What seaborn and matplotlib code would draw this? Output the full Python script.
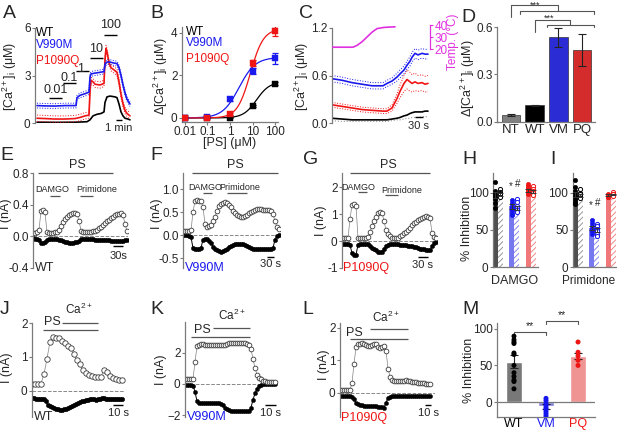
import numpy as np
import pandas as pd
import matplotlib
matplotlib.use('Agg')
import matplotlib.pyplot as plt
import seaborn as sns

# ---------------- data ----------------
# Panel A : [Ca2+]i traces (time in arbitrary units)
A_t_b = [2, 10, 20, 30, 41, 42, 45, 50, 54, 55, 56, 60, 65, 69, 70, 72, 75, 78, 82, 84, 86, 88, 90, 92, 95]
A_b = [1.10, 1.08, 1.07, 1.10, 1.10, 1.60, 1.75, 1.85, 1.95, 2.90, 3.10, 3.15, 3.20, 3.25, 3.70, 3.85, 3.85,
       3.80, 3.75, 3.50, 3.00, 2.40, 1.90, 1.50, 1.20]
A_t_r = [2, 10, 20, 30, 40, 45, 50, 54, 55, 56, 58, 60, 65, 69, 70, 71, 72, 74, 76, 80, 82, 84, 86, 88, 90, 92, 95]
A_r = [0.30, 0.28, 0.25, 0.25, 0.28, 0.35, 0.45, 0.50, 2.00, 2.70, 2.60, 2.45, 2.40, 2.50, 4.00, 4.70, 4.50, 3.80,
       3.50, 3.30, 3.20, 2.60, 1.80, 1.20, 0.80, 0.60, 0.45]
A_t_k = [2, 20, 40, 52, 55, 58, 62, 66, 69, 70, 72, 75, 80, 82, 84, 86, 88, 90, 93, 95]
A_k = [0.05, 0.04, 0.05, 0.08, 0.20, 0.45, 0.55, 0.60, 0.70, 1.30, 1.65, 1.70, 1.65, 1.60, 1.20, 0.70, 0.45, 0.30,
       0.25, 0.20]
A_err_b = 0.15
A_err_r = 0.20
A_conc = ['0.01', '0.1', '1', '10', '100']

# Panel B : dose response
B_ps = [0.01, 0.1, 1, 10, 100]
B_wt = [0.00, 0.00, 0.02, 0.55, 1.62]
B_wt_e = [0.01, 0.01, 0.01, 0.04, 0.05]
B_vm = [0.02, 0.05, 0.88, 2.20, 2.80]
B_vm_e = [0.02, 0.04, 0.07, 0.15, 0.28]
B_pq = [0.02, 0.02, 0.18, 2.58, 4.10]
B_pq_e = [0.02, 0.02, 0.05, 0.15, 0.22]
# Hill fit parameters (max, EC50, n)
B_fit = {'WT': (1.70, 15.0, 1.5), 'V990M': (2.85, 2.5, 1.2), 'P1090Q': (4.20, 8.0, 1.5)}

# Panel C : temperature response
C_t = [0, 10, 20, 30, 40, 51, 55, 60, 65, 68, 72, 75, 78, 80, 83, 86, 90, 93, 96]
C_b = [0.56, 0.54, 0.51, 0.49, 0.47, 0.47, 0.50, 0.53, 0.58, 0.62, 0.67, 0.73, 0.78, 0.83, 0.88, 0.86, 0.88, 0.87, 0.87]
C_b_e = [0.04, 0.04, 0.04, 0.04, 0.04, 0.04, 0.04, 0.04, 0.05, 0.05, 0.05, 0.05, 0.06, 0.06, 0.06, 0.06, 0.06, 0.06, 0.06]
C_r = [0.23, 0.21, 0.19, 0.17, 0.16, 0.15, 0.15, 0.19, 0.31, 0.40, 0.50, 0.55, 0.52, 0.50, 0.52, 0.50, 0.51, 0.49, 0.50]
C_r_e = [0.03, 0.03, 0.03, 0.03, 0.03, 0.03, 0.03, 0.04, 0.06, 0.08, 0.10, 0.12, 0.12, 0.11, 0.11, 0.10, 0.10, 0.10, 0.10]
C_k = [0.06, 0.05, 0.04, 0.04, 0.04, 0.04, 0.04, 0.05, 0.06, 0.07, 0.09, 0.10, 0.12, 0.13, 0.14, 0.14, 0.14, 0.15, 0.15]
C_g = [0.03, 0.02, 0.02, 0.02, 0.02, 0.02, 0.02, 0.03, 0.04, 0.04, 0.05, 0.06, 0.06, 0.07, 0.07, 0.07, 0.08, 0.08, 0.08]
T_t = [0, 21, 25, 30, 35, 40, 45, 52, 63]
T_v = [21.5, 21.5, 23.0, 26.0, 30.0, 34.0, 37.0, 38.0, 38.5]

# Panel D
D_cats = ['NT', 'WT', 'VM', 'PQ']
D_vals = [0.045, 0.105, 0.535, 0.455]
D_err = [0.005, 0.004, 0.06, 0.10]

# Panels E-G : whole-cell currents (open = outward, filled = inward)
E_t = list(range(0, 96, 2))
E_open = [0.04, 0.04, 0.05, 0.08, 0.32, 0.33, 0.31, 0.05, 0.04, 0.04,
          0.04, 0.05, 0.05, 0.08, 0.13, 0.18, 0.22, 0.25, 0.27, 0.28,
          0.30, 0.29, 0.28, 0.20, 0.07, 0.06, 0.06, 0.06, 0.06, 0.06,
          0.07, 0.07, 0.08, 0.10, 0.12, 0.14, 0.17, 0.19, 0.21, 0.23,
          0.25, 0.27, 0.28, 0.28, 0.29, 0.27, 0.15, 0.07]
E_fill = [-0.02, -0.03, -0.03, -0.05, -0.08, -0.08, -0.07, -0.04, -0.03, -0.03,
          -0.03, -0.03, -0.03, -0.04, -0.05, -0.06, -0.07, -0.07, -0.08, -0.08,
          -0.08, -0.07, -0.07, -0.06, -0.03, -0.03, -0.03, -0.03, -0.03, -0.03,
          -0.03, -0.04, -0.04, -0.04, -0.04, -0.05, -0.05, -0.05, -0.05, -0.06,
          -0.06, -0.06, -0.06, -0.06, -0.06, -0.06, -0.05, -0.04]
F_t = list(range(0, 98, 2))
F_open = [0.08, 0.08, 0.08, 0.08, 0.10, 0.50, 0.74, 0.76, 0.75, 0.75,
          0.60, 0.25, 0.18, 0.20, 0.22, 0.30, 0.40, 0.52, 0.62, 0.67,
          0.70, 0.71, 0.70, 0.66, 0.60, 0.53, 0.47, 0.44, 0.42, 0.40,
          0.40, 0.41, 0.44, 0.48, 0.51, 0.53, 0.55, 0.56, 0.56, 0.56,
          0.55, 0.55, 0.55, 0.54, 0.52, 0.45, 0.30, 0.17, 0.14]
F_fill = [0.00, 0.00, 0.00, -0.02, -0.05, -0.28, -0.30, -0.30, -0.30, -0.28,
          -0.10, -0.08, -0.09, -0.12, -0.18, -0.25, -0.30, -0.33, -0.35, -0.36,
          -0.35, -0.33, -0.30, -0.27, -0.24, -0.22, -0.20, -0.20, -0.20, -0.20,
          -0.20, -0.21, -0.23, -0.26, -0.28, -0.30, -0.30, -0.31, -0.31, -0.31,
          -0.31, -0.31, -0.31, -0.30, -0.30, -0.28, -0.10, -0.03, 0.00]
G_t = list(range(0, 96, 2))
G_open = [0.10, 0.10, 0.10, 0.12, 0.80, 1.35, 1.38, 1.30, 0.12, 0.10,
          0.10, 0.10, 0.10, 0.15, 0.35, 0.55, 0.75, 0.90, 1.02, 1.08,
          1.05, 0.75, 0.40, 0.25, 0.18, 0.13, 0.12, 0.12, 0.13, 0.17,
          0.22, 0.28, 0.35, 0.42, 0.50, 0.58, 0.65, 0.72, 0.78, 0.83,
          0.87, 0.90, 0.92, 0.90, 0.85, 0.30, 0.15, 0.10]
G_fill = [-0.10, -0.10, -0.10, -0.10, -0.15, -0.45, -0.50, -0.50, -0.15, -0.10,
          -0.10, -0.10, -0.10, -0.12, -0.18, -0.25, -0.30, -0.35, -0.40, -0.42,
          -0.40, -0.30, -0.20, -0.14, -0.10, -0.10, -0.10, -0.10, -0.12, -0.13,
          -0.14, -0.15, -0.16, -0.17, -0.19, -0.20, -0.22, -0.24, -0.26, -0.28,
          -0.30, -0.31, -0.33, -0.35, -0.35, -0.20, -0.08, -0.05]

# Panels H, I : % inhibition (solid = first, hatched = second)
HI_groups = ['WT', 'VM', 'PQ']
H_solid = [97, 82, 104]
H_solid_e = [4, 3, 2]
H_hatch = [98, 80, 102]
H_hatch_e = [2, 3, 2]
H_pts_solid = [[115, 103, 100, 97, 95, 92, 87, 80], [90, 86, 83, 80, 78, 76, 72, 70], [112, 110, 107, 105, 103, 100, 98]]
H_pts_hatch = [[105, 102, 100, 98, 95], [92, 88, 83, 80, 77, 74], [110, 106, 103, 100, 97]]
I_solid = [98, 53, 97]
I_solid_e = [4, 3, 1]
I_hatch = [97, 50, 98]
I_hatch_e = [2, 3, 1]
I_pts_solid = [[118, 108, 103, 100, 96, 92, 88, 85], [63, 60, 55, 52, 50, 48, 45], [98, 97, 96, 95, 94]]
I_pts_hatch = [[105, 100, 98, 96, 93], [58, 55, 52, 48, 45, 42], [101, 99, 98, 96]]

# Panels J-L : PS then Ca2+
J_t_open = list(range(0, 93, 3))
J_open = [0.20, 0.22, 0.22, 0.22, 0.50, 0.95, 1.45, 1.60, 1.55, 1.55,
          1.48, 1.40, 1.33, 1.27, 1.10, 0.90, 0.78, 0.63, 0.53, 0.47,
          0.45, 0.42, 0.40, 0.42, 0.62, 0.55, 0.45, 0.37, 0.35, 0.33, 0.32]
J_t_fill = list(range(0, 92, 2))
J_fill = [-0.20, -0.22, -0.23, -0.23, -0.24, -0.25, -0.25, -0.30, -0.40, -0.45,
          -0.48, -0.50, -0.52, -0.53, -0.55, -0.55, -0.54, -0.52, -0.50, -0.47,
          -0.44, -0.41, -0.38, -0.35, -0.32, -0.30, -0.28, -0.27, -0.26, -0.25,
          -0.25, -0.25, -0.26, -0.25, -0.23, -0.22, -0.22, -0.23, -0.24, -0.25,
          -0.25, -0.24, -0.24, -0.25, -0.25, -0.25]
K_t = list(range(0, 92, 2))
K_open = [0.30, 0.30, 0.30, 0.30, 0.30, 1.40, 2.40, 2.50, 2.55, 2.55,
          2.50, 2.50, 2.50, 2.50, 2.50, 2.50, 2.45, 2.45, 2.45, 2.50,
          2.50, 2.55, 2.60, 2.60, 2.60, 2.60, 2.60, 2.60, 2.60, 2.60,
          2.60, 2.55, 2.50, 2.20, 1.60, 1.00, 0.60, 0.40, 0.30, 0.22,
          0.18, 0.15, 0.12, 0.10, 0.10, 0.10]
K_fill = [-0.05, -0.05, -0.05, -0.05, -0.10, -0.50, -1.10, -1.20, -1.20, -1.20,
          -1.20, -1.20, -1.20, -1.20, -1.20, -1.20, -1.20, -1.20, -1.25, -1.35,
          -1.50, -1.60, -1.65, -1.70, -1.70, -1.70, -1.70, -1.70, -1.70, -1.70,
          -1.70, -1.70, -1.70, -1.50, -1.00, -0.60, -0.30, -0.12, -0.05, 0.00,
          0.00, 0.00, 0.00, 0.00, 0.00, 0.00]
L_t = list(range(0, 92, 2))
L_open = [0.10, 0.10, 0.10, 0.10, 0.10, 0.10, 0.30, 0.90, 1.40, 1.50,
          1.50, 1.52, 1.50, 1.48, 1.45, 1.45, 1.48, 1.50, 1.50, 1.42,
          1.38, 1.40, 1.45, 1.30, 0.75, 0.50, 0.40, 0.38, 0.38, 0.37,
          0.37, 0.38, 0.38, 0.40, 0.38, 0.37, 0.35, 0.35, 0.33, 0.32,
          0.30, 0.30, 0.30, 0.28, 0.28, 0.28]
L_fill = [-0.10, -0.10, -0.10, -0.10, -0.10, -0.10, -0.12, -0.20, -0.30, -0.35,
          -0.38, -0.38, -0.40, -0.40, -0.40, -0.40, -0.40, -0.40, -0.40, -0.42,
          -0.42, -0.43, -0.45, -0.30, -0.15, -0.12, -0.10, -0.10, -0.10, -0.10,
          -0.10, -0.10, -0.10, -0.10, -0.10, -0.10, -0.10, -0.10, -0.10, -0.10,
          -0.10, -0.10, -0.10, -0.10, -0.10, -0.10]

# Panel M
M_cats = ['WT', 'VM', 'PQ']
M_vals = [55, -6, 63]
M_err = [9, 3, 4]
M_pts = {'WT': [90, 85, 82, 80, 67, 65, 50, 40, 35, 30, 28, 18],
         'VM': [5, 2, -2, -5, -8, -10, -13, -16, -19],
         'PQ': [82, 68, 63, 57, 50]}

# ---------------- style ----------------
sns.set_theme(style='ticks')
plt.rcParams['font.family'] = ['Liberation Sans', 'DejaVu Sans']
plt.rcParams['mathtext.fontset'] = 'custom'
plt.rcParams['mathtext.rm'] = 'Liberation Sans'
plt.rcParams['mathtext.it'] = 'Liberation Sans:italic'
plt.rcParams['mathtext.bf'] = 'Liberation Sans:bold'
plt.rcParams['hatch.linewidth'] = 0.6

BLUE = '#1a1aee'
RED = '#f01515'
MAG = '#e030e0'
SP = '#7a7a7a'
ANN = '#555555'
TK = 8.5   # tick label size
LB = 9     # axis label size
LG = 8.5   # in-panel legend size
CA = r'[Ca$^{2+}$]$_{\mathrm{i}}$ (μM)'
DCA = r'Δ[Ca$^{2+}$]$_{\mathrm{i}}$ (μM)'

W, H = 617, 430
fig = plt.figure(figsize=(W / 100, H / 100), dpi=100)


def add_ax(l, t, r, b):
    return fig.add_axes([l / W, 1 - b / H, (r - l) / W, (b - t) / H])


def ftext(x, y, s, **kw):
    kw.setdefault('ha', 'center')
    kw.setdefault('va', 'center')
    fig.text(x / W, 1 - y / H, s, **kw)


def style(ax, bottom=False):
    sns.despine(ax=ax, bottom=not bottom)
    for s in ['left', 'bottom']:
        ax.spines[s].set_color(SP)
        ax.spines[s].set_linewidth(0.9)
    ax.tick_params(axis='both', length=2.2, width=0.8, color=SP, labelsize=TK, pad=1)
    if not bottom:
        ax.set_xticks([])
    ax.set_xlabel('')
    ax.set_ylabel('')
    ax.patch.set_alpha(0)


def line(ax, x, y, color, lw=1.2, ls='-'):
    sns.lineplot(x=x, y=y, ax=ax, color=color, lw=lw, ls=ls, estimator=None, sort=False)


def opentrace(ax, x, y, ms=3.4):
    sns.lineplot(x=x, y=y, ax=ax, color='#808080', lw=0.5, marker='o', ms=ms, mfc='white',
                 mec='#3a3a3a', mew=0.6, estimator=None, sort=False)


def filltrace(ax, x, y, ms=3.1):
    sns.lineplot(x=x, y=y, ax=ax, color='black', lw=0.7, marker='o', ms=ms, mfc='black',
                 mec='black', mew=0.3, estimator=None, sort=False)


def hbar(ax, x0, x1, y, color=ANN, lw=0.9):
    ax.plot([x0, x1], [y, y], color=color, lw=lw, clip_on=False, solid_capstyle='butt')


def atext(ax, x, y, s, size=9, **kw):
    kw.setdefault('ha', 'center')
    kw.setdefault('va', 'center')
    ax.text(x, y, s, fontsize=size, clip_on=False, **kw)


# ---------------- Panel A ----------------
axA = add_ax(35, 28, 132, 123)
line(axA, A_t_k, A_k, 'black')
for tt, yy, ee, cc in [(A_t_r, A_r, A_err_r, RED), (A_t_b, A_b, A_err_b, BLUE)]:
    line(axA, tt, yy, cc, lw=1.2)
    line(axA, tt, np.array(yy) + ee, cc, lw=0.7, ls=':')
    line(axA, tt, np.array(yy) - ee, cc, lw=0.7, ls=':')
axA.set_xlim(0, 97)
axA.set_ylim(0, 6)
style(axA)
axA.set_yticks([0, 3, 6])
conc_bars = [(14, 27, 1.58, 2.1), (28, 41, 2.53, 2.85), (41, 54, 3.28, 3.4), (55, 68, 4.11, 4.7),
             (69, 82, 5.56, 6.2)]
for lab, (x0, x1, yb, yt) in zip(A_conc, conc_bars):
    hbar(axA, x0, x1, yb, color='black', lw=1.0)
    atext(axA, (x0 + x1) / 2 + (-2 if lab == '1' else 0), yt, lab, size=9)
hbar(axA, 81, 87, 0.19, color='black', lw=1.0)
atext(axA, 84, -0.3, '1 min', size=8)
ftext(36, 33, 'WT', ha='left', fontsize=LG, color='black')
ftext(36, 45, 'V990M', ha='left', fontsize=LG, color=BLUE)
ftext(36, 61, 'P1090Q', ha='left', fontsize=LG, color=RED)
ftext(10, 76, CA, rotation=90, fontsize=LB)

# ---------------- Panel B ----------------
axB = add_ax(182, 27, 278, 122)
xfit = np.logspace(-2, 2, 200)
for key, cc in [('WT', 'black'), ('V990M', BLUE), ('P1090Q', RED)]:
    vmax, ec50, nh = B_fit[key]
    line(axB, xfit, vmax * xfit ** nh / (ec50 ** nh + xfit ** nh), cc, lw=0.9)
for yy, ee, cc in [(B_wt, B_wt_e, 'black'), (B_vm, B_vm_e, BLUE), (B_pq, B_pq_e, RED)]:
    axB.errorbar(B_ps, yy, yerr=ee, fmt='none', ecolor=cc, elinewidth=0.9, capsize=2.5, capthick=0.9)
    sns.scatterplot(x=B_ps, y=yy, ax=axB, marker='s', s=18, color=cc, edgecolor=cc, linewidth=0.3, zorder=3)
axB.set_xscale('log')
axB.set_xlim(10 ** -2.13, 10 ** 2.13)
axB.set_ylim(-0.19, 4.28)
style(axB, bottom=True)
axB.set_xticks(B_ps)
axB.set_xticklabels(['0.01', '0.1', '1', '10', '100'])
axB.minorticks_off()
axB.set_yticks([0, 2, 4])
ftext(186, 32, 'WT', ha='left', fontsize=LG, color='black')
ftext(186, 43, 'V990M', ha='left', fontsize=LG, color=BLUE)
ftext(186, 59, 'P1090Q', ha='left', fontsize=LG, color=RED)
ftext(161, 76, DCA, rotation=90, fontsize=LB)
ftext(230, 143, '[PS] (μM)', fontsize=LB)

# ---------------- Panel C ----------------
axC = add_ax(332, 28, 430, 123)
line(axC, C_t, C_g, '#999999', lw=0.8, ls=':')
line(axC, C_t, C_k, 'black', lw=1.2)
for yy, ee, cc in [(C_r, C_r_e, RED), (C_b, C_b_e, BLUE)]:
    line(axC, C_t, yy, cc, lw=1.2)
    line(axC, C_t, np.array(yy) + np.array(ee), cc, lw=0.7, ls=':')
    line(axC, C_t, np.array(yy) - np.array(ee), cc, lw=0.7, ls=':')
axC.set_xlim(0, 98)
axC.set_ylim(0, 1.2)
style(axC)
axC.set_yticks([0, 0.6, 1.2])
axC.set_yticklabels(['0.0', '0.6', '1.2'])
hbar(axC, 83, 91, 0.075, color='black', lw=1.0)
atext(axC, 87, -0.04, '30 s', size=8)
ftext(302, 76, CA, rotation=90, fontsize=LB)

axT = add_ax(332, 25, 430, 49)
line(axT, T_t, T_v, MAG, lw=1.2)
axT.set_xlim(0, 98)
axT.set_ylim(20, 40)
sns.despine(ax=axT, left=True, bottom=True, right=False)
axT.spines['right'].set_color(MAG)
axT.spines['right'].set_linewidth(0.9)
axT.yaxis.tick_right()
axT.set_yticks([20, 30, 40])
axT.tick_params(axis='y', length=2.2, width=0.8, color=MAG, labelcolor=MAG, labelsize=TK, pad=1)
axT.set_xticks([])
axT.set_xlabel('')
axT.set_ylabel('')
axT.patch.set_alpha(0)
ftext(453, 42, 'Temp. (°C)', rotation=90, fontsize=8.5, color=MAG)

# ---------------- Panel D ----------------
axD = add_ax(497, 27, 595, 122)
D_colors = ['#808080', '#000000', '#1010f0', '#f01010']
sns.barplot(x=D_cats, y=D_vals, hue=D_cats, palette=D_colors, width=0.78, ax=axD, legend=False,
            errorbar=None, edgecolor='#333333', linewidth=0.5)
axD.errorbar(range(4), D_vals, yerr=D_err, fmt='none', ecolor='#222222', elinewidth=0.8, capsize=3, capthick=0.8)
axD.set_xlim(-0.59, 3.54)
axD.set_ylim(0, 0.6)
style(axD, bottom=True)
axD.tick_params(axis='x', length=0, labelsize=9.5, pad=1.5)
axD.set_yticks([0, 0.3, 0.6])
axD.set_yticklabels(['0.0', '0.3', '0.6'])
axD.plot([0, 0, 2.0, 2.0], [0.665, 0.74, 0.74, 0.70], color=ANN, lw=0.8, clip_on=False)
axD.plot([0.4, 0.4, 3.5, 3.5], [0.685, 0.70, 0.70, 0.685], color=ANN, lw=0.8, clip_on=False)
atext(axD, 1.0, 0.737, '***', size=6.5)
axD.plot([1.0, 1.0, 2.5, 2.5], [0.57, 0.645, 0.645, 0.614], color=ANN, lw=0.8, clip_on=False)
axD.plot([1.5, 1.5, 3.5, 3.5], [0.60, 0.614, 0.614, 0.60], color=ANN, lw=0.8, clip_on=False)
atext(axD, 1.6, 0.655, '***', size=6.5)
ftext(468, 78, DCA, rotation=90, fontsize=LB)


# ---------------- Panels E, F, G ----------------
def current_panel(box, t, yo, yf, ylim, xlim, yticks, yticklabels, ylab_x, ylab_y):
    ax = add_ax(*box)
    ax.axhline(0, color='#888888', lw=0.7, ls='--', zorder=0)
    filltrace(ax, t, yf)
    opentrace(ax, t, yo)
    ax.set_xlim(*xlim)
    ax.set_ylim(*ylim)
    style(ax)
    ax.set_yticks(yticks)
    ax.set_yticklabels(yticklabels)
    ftext(ylab_x, ylab_y, 'I (nA)', rotation=90, fontsize=LB)
    return ax


axE = current_panel((33, 173, 128, 268), E_t, E_open, E_fill, (-0.4, 0.8), (0, 95),
                    [-0.4, 0, 0.4, 0.8], ['-0.4', '0.0', '0.4', '0.8'], 5.5, 214)
hbar(axE, 5, 80, 0.8)
atext(axE, 44, 0.83, 'PS', size=9, va='bottom')
atext(axE, 19, 0.59, 'DAMGO', size=6.5)
hbar(axE, 17, 27, 0.51)
atext(axE, 64, 0.59, 'Primidone', size=6.5)
hbar(axE, 47, 60, 0.51)
hbar(axE, 80, 90, -0.125, color='black', lw=1.0)
atext(axE, 85, -0.25, '30s', size=8)
atext(axE, 2, -0.4, 'WT', size=9, ha='left')

axF = current_panel((183, 173, 280, 268), F_t, F_open, F_fill, (-0.717, 1.348), (0, 97),
                    [-0.5, 0, 0.5, 1.0], ['-0.5', '0.0', '0.5', '1.0'], 157, 214)
hbar(axF, 9, 95, 1.348)
atext(axF, 52, 1.39, 'PS', size=9, va='bottom')
atext(axF, 22, 1.04, 'DAMGO', size=6.5)
hbar(axF, 20, 29, 0.91)
atext(axF, 57, 1.04, 'Primidone', size=6.5)
hbar(axF, 44, 64, 0.91)
hbar(axF, 84, 91, -0.48, color='black', lw=1.0)
atext(axF, 88, -0.64, '30 s', size=8)
atext(axF, 2, -0.72, 'V990M', size=9, ha='left', color=BLUE)

axG = current_panel((342, 173, 437, 268), G_t, G_open, G_fill, (-1.0, 2.52), (0, 95),
                    [-1, 0, 1, 2], ['-1', '0', '1', '2'], 321, 221)
hbar(axG, 8, 88, 2.52)
atext(axG, 46, 2.6, 'PS', size=9, va='bottom')
atext(axG, 16, 2.0, 'DAMGO', size=6.5)
hbar(axG, 16, 25, 1.81)
atext(axG, 60, 1.89, 'Primidone', size=6.5)
hbar(axG, 43, 56, 1.70)
hbar(axG, 76, 86, -0.59, color='black', lw=1.0)
atext(axG, 81, -0.88, '30 s', size=8)
atext(axG, 1, -1.0, 'P1090Q', size=9, ha='left', color=RED)

# ---------------- Panels H, I ----------------
HI_bar = ['#505050', '#7878ee', '#f07878']
HI_hatch = ['#8a8a8a', '#7878ee', '#f07878']
HI_dot = ['#000000', '#1515ee', '#ee1515']


def inhib_panel(box, solid, solid_e, hatch, hatch_e, pts_s, pts_h, star_y):
    ax = add_ax(*box)
    df = pd.DataFrame({'group': HI_groups * 2,
                       'cond': ['a'] * 3 + ['b'] * 3,
                       'val': list(solid) + list(hatch)})
    sns.barplot(data=df, x='group', y='val', hue='cond', order=HI_groups, hue_order=['a', 'b'],
                width=0.6, ax=ax, legend=False, errorbar=None)
    for p in ax.patches:
        cx = p.get_x() + p.get_width() / 2
        g = int(round(cx))
        if cx < g:
            p.set_facecolor(HI_bar[g])
            p.set_edgecolor(HI_bar[g])
            p.set_linewidth(0)
        else:
            p.set_facecolor('white')
            p.set_edgecolor(HI_hatch[g])
            p.set_hatch('//////')
            p.set_linewidth(0)
    for g in range(3):
        xs = [g - 0.15] * len(pts_s[g])
        sns.scatterplot(x=xs, y=pts_s[g], ax=ax, color=HI_dot[g], s=9, edgecolor=HI_dot[g],
                        linewidth=0.5, zorder=3, clip_on=False)
        xh = [g + 0.15] * len(pts_h[g])
        sns.scatterplot(x=xh, y=pts_h[g], ax=ax, color='white', s=9, edgecolor=HI_dot[g],
                        linewidth=0.7, zorder=3, clip_on=False)
        ax.errorbar([g - 0.15, g + 0.15], [solid[g], hatch[g]], yerr=[solid_e[g], hatch_e[g]], fmt='none',
                    ecolor='#333333', elinewidth=0.7, capsize=2, capthick=0.7, zorder=4)
    ax.set_xlim(-0.3, 2.4)
    ax.set_ylim(0, 127)
    style(ax, bottom=True)
    ax.set_xticks([])
    ax.set_yticks([0, 50, 100])
    atext(ax, 0.8, star_y, '*', size=7)
    atext(ax, 1.18, star_y + 2, '#', size=7)
    return ax


axH = inhib_panel((493, 173, 537.5, 267), H_solid, H_solid_e, H_hatch, H_hatch_e, H_pts_solid, H_pts_hatch, 110)
axI = inhib_panel((572.7, 173, 617.5, 267), I_solid, I_solid_e, I_hatch, I_hatch_e, I_pts_solid, I_pts_hatch, 84)
ftext(515, 281, 'DAMGO', fontsize=LB)
ftext(589, 281, 'Primidone', fontsize=8.5)
ftext(467, 228, '% Inhibition', rotation=90, fontsize=LB)


# ---------------- Panels J, K, L ----------------
def ca_panel(box, to, yo, tf, yf, ylim, xlim, yticks, ylab_x, ylab_y, ms_o=3.4, ms_f=3.0):
    ax = add_ax(*box)
    ax.axhline(0, color='#888888', lw=0.7, ls='--', zorder=0)
    filltrace(ax, tf, yf, ms=ms_f)
    opentrace(ax, to, yo, ms=ms_o)
    ax.set_xlim(*xlim)
    ax.set_ylim(*ylim)
    style(ax)
    ax.set_yticks(yticks)
    ftext(ylab_x, ylab_y, 'I (nA)', rotation=90, fontsize=LB)
    return ax


axJ = ca_panel((32, 323, 125, 417), J_t_open, J_open, J_t_fill, J_fill, (-0.765, 2.0), (0, 93), [0, 1, 2],
               7, 368, ms_o=3.9, ms_f=3.2)
hbar(axJ, 11, 66, 1.79)
atext(axJ, 20, 2.02, 'PS', size=9)
hbar(axJ, 30, 66, 2.0)
atext(axJ, 47, 2.18, r'Ca$^{2+}$', size=8.5, va='bottom')
hbar(axJ, 81, 91, -0.41, color='black', lw=1.0)
atext(axJ, 86, -0.64, '10 s', size=8)
atext(axJ, 1.5, -0.77, 'WT', size=9, ha='left')

axK = ca_panel((185, 322, 278, 417), K_t, K_open, K_t, K_fill, (-2.1, 3.94), (0, 93), [-2, 0, 2], 161, 370)
hbar(axK, 6, 65, 2.98)
atext(axK, 17, 3.45, 'PS', size=9)
hbar(axK, 28, 65, 3.56)
atext(axK, 47, 3.9, r'Ca$^{2+}$', size=8.5, va='bottom')
hbar(axK, 80, 91, -1.33, color='black', lw=1.0)
atext(axK, 85, -1.85, '10 s', size=8)
atext(axK, 1.5, -2.1, 'V990M', size=9, ha='left', color=BLUE)

axL = ca_panel((340, 323, 435, 417), L_t, L_open, L_t, L_fill, (-0.74, 2.15), (0, 95), [0, 1, 2], 324, 365)
hbar(axL, 10, 68, 1.66)
atext(axL, 14, 1.85, 'PS', size=9)
hbar(axL, 30, 68, 1.97)
atext(axL, 46, 2.1, r'Ca$^{2+}$', size=8.5, va='bottom')
hbar(axL, 85, 91, -0.37, color='black', lw=1.0)
atext(axL, 88, -0.62, '10 s', size=8)
atext(axL, 1.5, -0.77, 'P1090Q', size=9, ha='left', color=RED)

# ---------------- Panel M ----------------
axM = add_ax(497, 323, 595, 417)
M_bar = ['#787878', '#7070e8', '#ff8484']
M_dot = ['#000000', '#1515ee', '#ee1515']
sns.barplot(x=M_cats, y=M_vals, hue=M_cats, palette=M_bar, width=0.5, ax=axM, legend=False, errorbar=None)
axM.axhline(0, color=SP, lw=0.9)
dfM = pd.DataFrame({'cat': [c for c in M_cats for _ in M_pts[c]],
                    'val': [v for c in M_cats for v in M_pts[c]]})
sns.stripplot(data=dfM, x='cat', y='val', hue='cat', order=M_cats, hue_order=M_cats, palette=M_dot,
              jitter=False, size=3.6, legend=False, ax=axM, zorder=3)
axM.errorbar(range(3), M_vals, yerr=M_err, fmt='none', ecolor='#222222', elinewidth=0.8, capsize=3, capthick=0.8)
axM.set_xlim(-0.53, 2.53)
axM.set_ylim(-20.5, 108)
style(axM, bottom=True)
axM.set_xticks(range(3))
axM.set_xticklabels(M_cats)
for lab, cc in zip(axM.get_xticklabels(), ['black', BLUE, RED]):
    lab.set_color(cc)
axM.tick_params(axis='x', length=0, labelsize=9, pad=0.5)
axM.set_yticks([0, 50, 100])
axM.plot([0, 0, 1, 1], [92, 96, 96, 92], color=ANN, lw=0.8, clip_on=False)
atext(axM, 0.5, 97, '**', size=7.5, va='bottom')
axM.plot([1, 1, 2, 2], [107, 111, 111, 107], color=ANN, lw=0.8, clip_on=False)
atext(axM, 1.5, 112, '**', size=7.5, va='bottom')
ftext(469, 370, '% Inhibition', rotation=90, fontsize=LB)

# ---------------- panel letters ----------------
letters = [('A', 9, 14), ('B', 157, 14), ('C', 306, 14), ('D', 468, 18),
           ('E', 7, 156), ('F', 156, 156), ('G', 311, 160), ('H', 469, 160), ('I', 553, 160),
           ('J', 5, 310), ('K', 157, 310), ('L', 308, 310), ('M', 470, 309)]
for s, x, y in letters:
    ftext(x, y, s, fontsize=14)

fig.savefig('out.png', dpi=100)
